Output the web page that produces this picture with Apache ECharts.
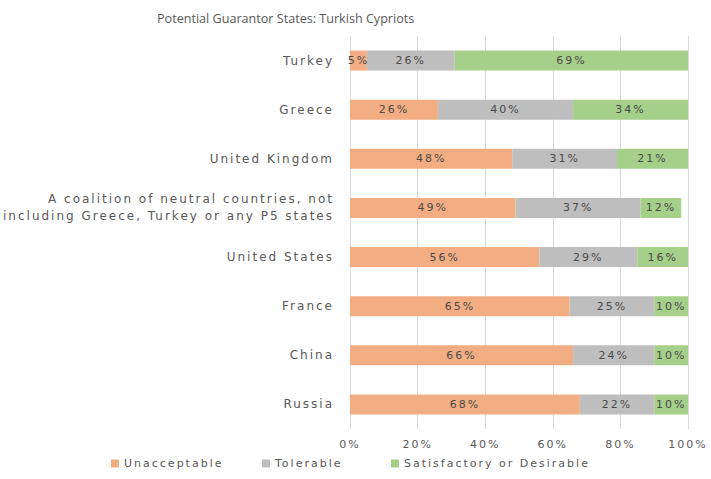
<!DOCTYPE html>
<html><head><meta charset="utf-8">
<script src="https://cdn.jsdelivr.net/npm/echarts@6/dist/echarts.min.js"></script>
<style>
html,body{margin:0;padding:0;background:#fff}
#c{width:711px;height:479px}
#c text[style*="DejaVu"], #c text[font-family*="DejaVu"]{letter-spacing:2px}
</style>
</head><body><div id="c"></div>
<script>
const categories = ["Turkey","Greece","United Kingdom","A coalition of neutral countries, not\nincluding Greece, Turkey or any P5 states","United States","France","China","Russia"];
const unacceptable = [5,26,48,49,56,65,66,68];
const tolerable = [26,40,31,37,29,25,24,22];
const satisfactory = [69,34,21,12,16,10,10,10];
const seriesNames = ["Unacceptable","Tolerable","Satisfactory or Desirable"];
const xTicks = [0,20,40,60,80,100];
const colors = ["#F2AE82","#BEBEBE","#A6CF8A"];

const FONT = 'DejaVu Sans';
const chart = echarts.init(document.getElementById('c'), null, {renderer:'svg'});
const lbl = {show:true, position:'inside', formatter: p => p.value + '%', color:'#4a4a4a', fontSize:11, fontFamily:FONT};
function mk(name, data, color){
  return {name, type:'bar', stack:'s', data, barWidth:20, itemStyle:{color}, label:lbl};
}
const legendLefts = [106, 257, 386];
chart.setOption({
  animation:false,
  title:{text:'Potential Guarantor States: Turkish Cypriots', left:152, top:7,
    textStyle:{fontSize:12.6, fontWeight:'normal', color:'#595959', fontFamily:'Open Sans'}},
  legend: seriesNames.map((n,i)=>({data:[n], bottom:5, left:legendLefts[i], itemWidth:8, itemHeight:8, icon:'rect',
    textStyle:{color:'#595959', fontSize:11, fontFamily:FONT}})),
  grid:{left:350, right:23, top:36, bottom:50, containLabel:false},
  xAxis:{type:'value', min:xTicks[0], max:xTicks[xTicks.length-1], interval:xTicks[1]-xTicks[0],
    axisLabel:{formatter:'{value}%', color:'#595959', fontSize:11, fontFamily:FONT, margin:10},
    splitLine:{lineStyle:{color:'#D9D9D9'}}, axisLine:{show:false}, axisTick:{show:false}},
  yAxis:{type:'category', data:categories, inverse:true,
    axisLabel:{color:'#595959', fontSize:12, fontFamily:FONT, margin:16, lineHeight:17, align:'right'},
    axisLine:{show:false}, axisTick:{show:false}},
  series:[mk(seriesNames[0], unacceptable, colors[0]), mk(seriesNames[1], tolerable, colors[1]), mk(seriesNames[2], satisfactory, colors[2])]
});
</script></body></html>
